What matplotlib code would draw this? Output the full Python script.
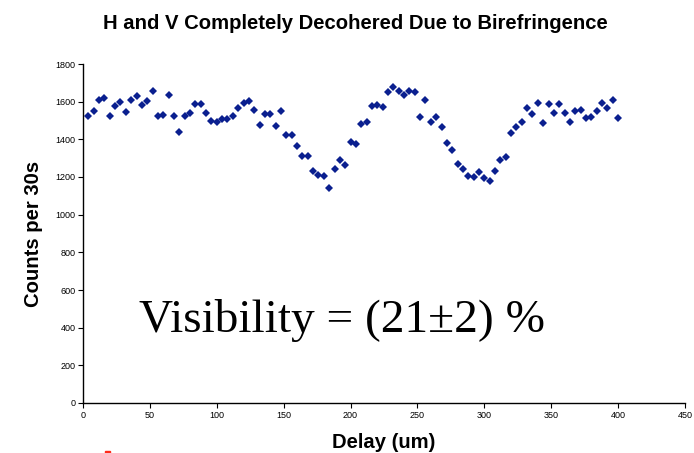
import matplotlib
matplotlib.use("Agg")
import matplotlib.pyplot as plt
import numpy as np

# Data
delay_um = list(range(4, 404, 4))
counts = [
    1526, 1549, 1607, 1618, 1526, 1577, 1597, 1544, 1611, 1632,
    1584, 1604, 1659, 1522, 1528, 1636, 1524, 1439, 1524, 1540,
    1590, 1586, 1540, 1496, 1491, 1508, 1508, 1524, 1567, 1592,
    1604, 1556, 1478, 1533, 1533, 1469, 1549, 1425, 1425, 1365,
    1312, 1312, 1232, 1209, 1204, 1140, 1243, 1290, 1266, 1386,
    1377, 1480, 1492, 1579, 1583, 1574, 1653, 1677, 1657, 1634,
    1657, 1652, 1521, 1609, 1494, 1519, 1464, 1381, 1345, 1269,
    1243, 1204, 1198, 1228, 1197, 1177, 1230, 1292, 1308, 1432,
    1466, 1492, 1568, 1533, 1595, 1487, 1586, 1542, 1590, 1542,
    1492, 1551, 1558, 1515, 1521, 1552, 1592, 1568, 1609, 1514,
]
x_ticks = [0, 50, 100, 150, 200, 250, 300, 350, 400, 450]
y_ticks = [0, 200, 400, 600, 800, 1000, 1200, 1400, 1600, 1800]

title = "H and V Completely Decohered Due to Birefringence"
xlabel = "Delay (um)"
ylabel = "Counts per 30s"
annotation = "Visibility = (21\u00b12) %"

sans = ["Liberation Sans", "DejaVu Sans"]
serif = ["Liberation Serif", "DejaVu Serif"]
plt.rcParams["font.family"] = sans

fig = plt.figure(figsize=(6.94, 4.53), dpi=100)
ax = fig.add_axes([83 / 694, 50 / 453, 602 / 694, 339 / 453])

ax.plot(delay_um, counts, linestyle="none", marker="D", markersize=4.2,
        color="#0a1f8f", markeredgewidth=0)

ax.set_xlim(0, 450)
ax.set_ylim(0, 1800)
ax.set_xticks(x_ticks)
ax.set_yticks(y_ticks)
ax.tick_params(axis="both", labelsize=6.5, length=3.5, width=0.8,
               direction="out", pad=2, colors="black")
for s in ["top", "right"]:
    ax.spines[s].set_visible(False)
for s in ["left", "bottom"]:
    ax.spines[s].set_linewidth(1.0)
    ax.spines[s].set_color("black")

fig.text(355.5 / 694, 1 - 29 / 453, title, ha="center", va="baseline",
         fontsize=14.6, fontweight="bold", family=sans)
fig.text(384 / 694, 1 - 448 / 453, xlabel, ha="center", va="baseline",
         fontsize=14.6, fontweight="bold", family=sans)
fig.text(34 / 694, 1 - 234 / 453, ylabel, ha="center", va="center",
         rotation=90, fontsize=14.6, fontweight="bold", family=sans)

fig.text(342 / 694, 1 - 320 / 453, annotation, ha="center", va="center",
         fontsize=34, family=serif)

fig.patches.append(plt.Rectangle((105 / 694, 0), 5 / 694, 2 / 453,
                                 transform=fig.transFigure,
                                 color="#ff2a1a", zorder=5))

fig.savefig("out.png", dpi=100)
